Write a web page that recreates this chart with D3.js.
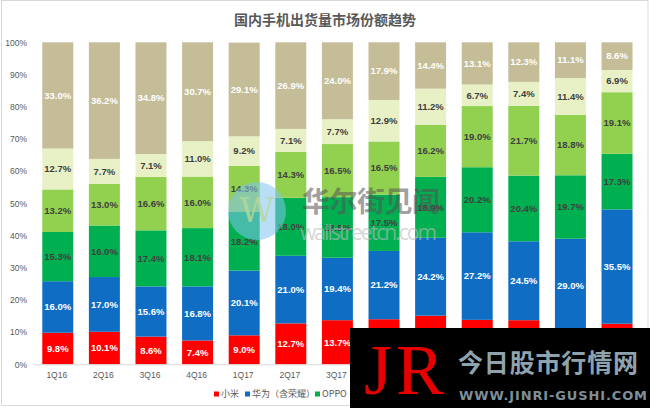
<!DOCTYPE html>
<html><head><meta charset="utf-8">
<script src="https://cdn.jsdelivr.net/npm/d3@7/dist/d3.min.js"></script>
<style>body{margin:0;background:#fff;}svg{display:block;}</style>
</head><body><svg id="c" width="650" height="408"></svg>
<script>
const categories = ["1Q16","2Q16","3Q16","4Q16","1Q17","2Q17","3Q17","4Q17","1Q18","2Q18","3Q18","4Q18","1Q19"];
const seriesNames = ["小米","华为（含荣耀）","OPPO","vivo","苹果","其他"];
const xiaomi = [9.8,10.1,8.6,7.4,9.0,12.7,13.7,14.0,15.1,13.8,13.7,10.0,12.6];
const huawei = [16.0,17.0,15.6,16.8,20.1,21.0,19.4,21.2,24.2,27.2,24.5,29.0,35.5];
const oppo   = [15.3,16.0,17.4,18.1,18.2,18.0,18.8,17.5,18.9,20.2,20.4,19.7,17.3];
const vivo   = [13.2,13.0,16.6,16.0,14.3,14.3,16.5,16.5,16.2,19.0,21.7,18.8,19.1];
const apple  = [12.7,7.7,7.1,11.0,9.2,7.1,7.7,12.9,11.2,6.7,7.4,11.4,6.9];
const others = [33.0,36.2,34.8,30.7,29.1,26.9,24.0,17.9,14.4,13.1,12.3,11.1,8.6];
const yTicks = [0,10,20,30,40,50,60,70,80,90,100];

const colors = ["#FF0000","#0F6EC4","#00B050","#92D050","#E8F1C6","#C4BD97"];
const labelColors = ["#fff","#fff","#404040","#404040","#404040","#fff"];
const seriesVals = [xiaomi,huawei,oppo,vivo,apple,others];

const svg = d3.select("#c");
svg.append("rect").attr("x",1.5).attr("y",0.5).attr("width",646.5).attr("height",405)
  .attr("fill","#fff").attr("stroke","#D9D9D9");

svg.append("text").attr("x",325).attr("y",25).attr("text-anchor","middle")
  .attr("font-family","'Noto Sans CJK SC',sans-serif").attr("font-weight","bold")
  .attr("font-size",14).attr("fill","#595959").text("国内手机出货量市场份额趋势");

const x = d3.scaleBand().domain(categories).range([34.5,640.3]).paddingInner(0.335).paddingOuter(0.167);
const y = d3.scaleLinear().domain([0,100]).range([364.3,42.3]);

const rows = categories.map((c,i)=>{const o={cat:c};seriesNames.forEach((s,j)=>o[s]=seriesVals[j][i]);return o;});
const stack = d3.stack().keys(seriesNames)(rows);

const g = svg.append("g");
stack.forEach((layer,j)=>{
  g.selectAll(null).data(layer).enter().append("rect")
    .attr("x",d=>x(d.data.cat)).attr("width",x.bandwidth())
    .attr("y",d=>y(Math.min(d[1],100))).attr("height",d=>y(d[0])-y(Math.min(d[1],100)))
    .attr("fill",colors[j]);
});
stack.forEach((layer,j)=>{
  g.selectAll(null).data(layer).enter().append("text")
    .attr("x",d=>x(d.data.cat)+x.bandwidth()/2)
    .attr("y",d=>(y(d[0])+y(Math.min(d[1],100)))/2).attr("dy","0.35em")
    .attr("text-anchor","middle").attr("font-family","'Liberation Sans',Arial,sans-serif")
    .attr("font-weight","bold").attr("font-size",9.5).attr("fill",labelColors[j])
    .text(d=>d.data[seriesNames[j]].toFixed(1)+"%");
});

// baseline
svg.append("line").attr("x1",34).attr("x2",640).attr("y1",y(0)+0.5).attr("y2",y(0)+0.5).attr("stroke","#D9D9D9");

const yAxis = svg.append("g").attr("transform","translate(27,0)")
  .call(d3.axisLeft(y).tickValues(yTicks).tickSize(0).tickFormat(d=>d+"%"));
yAxis.select(".domain").remove();
yAxis.selectAll("text").attr("x",0).attr("font-family","'Liberation Sans',Arial,sans-serif").attr("font-size",8.5).attr("fill","#595959");

const xAxis = svg.append("g").attr("transform","translate(-1,372)")
  .call(d3.axisBottom(x).tickSize(0));
xAxis.select(".domain").remove();
xAxis.selectAll("text").attr("y",0).attr("dy","0.71em").attr("font-family","'Liberation Sans',Arial,sans-serif").attr("font-size",8.5).attr("fill","#595959");

// legend
const legX = [214,245,315,350,380,410];
const leg = svg.append("g");
seriesNames.forEach((s,j)=>{
  leg.append("rect").attr("x",legX[j]).attr("y",391.5).attr("width",5).attr("height",5).attr("fill",colors[j]);
  leg.append("text").attr("x",legX[j]+7).attr("y",397).attr("font-family","'Noto Sans CJK SC',sans-serif")
    .attr("font-size",9).attr("fill","#595959").text(s);
});

// wallstreetcn watermark
const wm = svg.append("g");
wm.append("circle").attr("cx",257).attr("cy",211).attr("r",29).attr("fill","#7FC4F0").attr("opacity",0.55);
wm.append("text").attr("x",257).attr("y",222).attr("text-anchor","middle").attr("font-family","'DejaVu Serif',serif")
  .attr("font-size",34).attr("fill","#B8D89A").attr("opacity",0.8).text("W");
wm.append("text").attr("x",302).attr("y",212).attr("font-family","'Noto Sans CJK SC',serif").attr("font-weight","bold")
  .attr("font-size",28).attr("fill","#555").attr("opacity",0.55).attr("textLength",138).text("华尔街见闻");
wm.append("text").attr("x",300).attr("y",240).attr("font-family","'Open Sans',sans-serif")
  .attr("font-size",21).attr("fill","#bbb").attr("opacity",0.6).attr("textLength",137).text("wallstreetcn.com");

// JR watermark box
const jr = svg.append("g");
jr.append("rect").attr("x",350).attr("y",328).attr("width",300).attr("height",80).attr("fill","#000");
jr.append("text").attr("x",364).attr("y",394).attr("font-family","'Liberation Serif',serif")
  .attr("font-size",72).attr("fill","#E60000").attr("textLength",80).text("JR");
jr.append("text").attr("x",458).attr("y",372).attr("font-family","'Noto Sans CJK SC',sans-serif").attr("font-weight","bold")
  .attr("font-size",25).attr("fill","#8FA3AE").attr("textLength",180).text("今日股市行情网");
jr.append("text").attr("x",459).attr("y",400).attr("font-family","'DejaVu Sans',sans-serif").attr("font-weight","bold")
  .attr("font-size",13).attr("fill","#7D8F99").attr("textLength",188).text("WWW.JINRI-GUSHI.COM");
</script></body></html>
